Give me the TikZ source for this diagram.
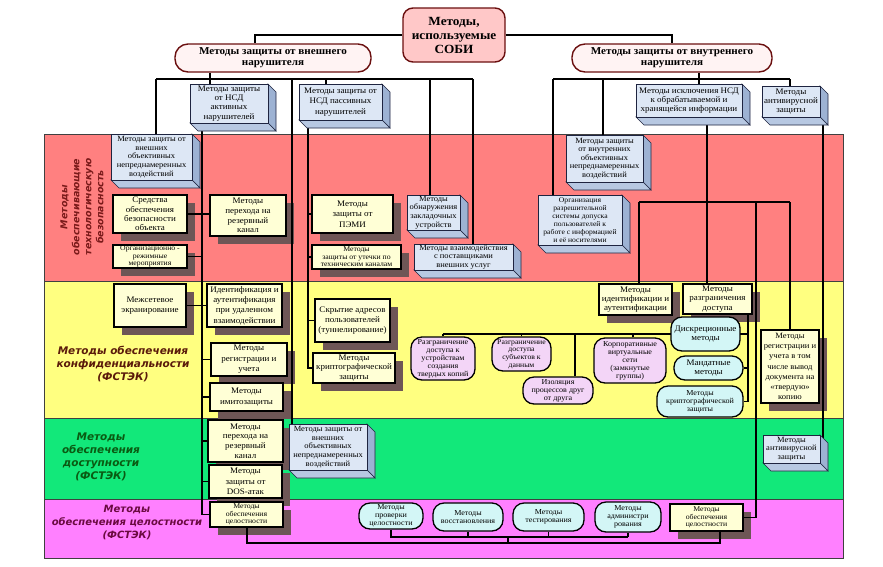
\documentclass[tikz,border=0pt]{standalone}
\usepackage{fontspec}
\setmainfont{Liberation Serif}[FakeStretch=1.06]
\newfontfamily\lblfont{DejaVu Sans}
\pgfdeclarelayer{bands}
\pgfdeclarelayer{shadowl}
\pgfdeclarelayer{lines}
\pgfsetlayers{bands,shadowl,lines,main}
\definecolor{bandred}{HTML}{FF8080}
\definecolor{bandyel}{HTML}{FFFF80}
\definecolor{bandgrn}{HTML}{12E87A}
\definecolor{bandmag}{HTML}{FF80FF}
\definecolor{tdfront}{HTML}{DDE7F5}
\definecolor{tdright}{HTML}{9DB2D3}
\definecolor{tdbottom}{HTML}{B7C8E2}
\definecolor{tdedge}{HTML}{1E2440}
\definecolor{cream}{HTML}{FFFFD6}
\definecolor{shadowc}{HTML}{6E5656}
\definecolor{lav}{HTML}{F3D5F7}
\definecolor{cyanf}{HTML}{D3F6F6}
\definecolor{topfill}{HTML}{FFC8C8}
\definecolor{pillfill}{HTML}{FFF3F3}
\definecolor{darkred}{HTML}{6A0F0F}
\definecolor{lblred}{HTML}{7A1A1A}
\definecolor{lblyel}{HTML}{5A1A0A}
\definecolor{lblgrn}{HTML}{0A5A12}
\definecolor{lblmag}{HTML}{6A0A40}
\newcommand\bxfont{\fontsize{8.5}{9.2}\selectfont}
\newcommand\bxfontL{\fontsize{8.5}{10.4}\selectfont}
\newcommand\bxfontM{\fontsize{8.5}{9.8}\selectfont}
\newcommand\mdfont{\fontsize{8}{8.6}\selectfont}
\newcommand\smfont{\fontsize{7.6}{8}\selectfont}
\newcommand\tnfont{\fontsize{7.3}{7.6}\selectfont}
\tikzset{
 conn/.style={line width=1.4pt, draw=black},
 tdbox/.style={draw=tdedge, line width=0.6pt, fill=tdfront, align=center, inner sep=0.5pt, font=\bxfont},
 cbox/.style={draw=black, line width=1.3pt, fill=cream, align=center, inner sep=0.5pt, font=\bxfont},
 lpill/.style={draw=black, line width=1.3pt, fill=lav, rounded corners=11pt, align=center, inner sep=0.5pt, font=\smfont},
 cpill/.style={draw=black, line width=1.3pt, fill=cyanf, rounded corners=11pt, align=center, inner sep=0.5pt, font=\bxfont},
 subpill/.style={draw=darkred, line width=1.4pt, fill=pillfill, rounded corners=13pt, minimum height=28, align=center, inner sep=0pt, font=\bfseries\fontsize{10.5}{11}\selectfont},
 bandlbl/.style={align=center, font=\lblfont\bfseries\itshape\fontsize{10.5}{13}\selectfont},
}
\newcommand\mkthree[7][]{%
 \filldraw[fill=tdright, draw=tdedge, line width=0.6pt] (#5,#4) -- ({#5+8},{#4+8}) -- ({#5+8},{#6+8}) -- (#5,#6) -- cycle;
 \filldraw[fill=tdbottom, draw=tdedge, line width=0.6pt] (#3,#6) -- (#5,#6) -- ({#5+8},{#6+8}) -- ({#3+8},{#6+8}) -- cycle;
 \node[tdbox,#1, minimum width={#5-#3}, minimum height={#6-#4}] (#2) at ({(#3+#5)/2},{(#4+#6)/2}) {#7};}
\newcommand\mkcream[7][]{%
 \begin{pgfonlayer}{shadowl}\fill[shadowc] ({#3+8},{#4+8}) rectangle ({#5+8},{#6+8});\end{pgfonlayer}
 \node[cbox,#1, minimum width={#5-#3}, minimum height={#6-#4}] (#2) at ({(#3+#5)/2},{(#4+#6)/2}) {#7};}
\newcommand\mkpill[7]{%
 \node[#1, minimum width={#5-#3}, minimum height={#6-#4}] (#2) at ({(#3+#5)/2},{(#4+#6)/2}) {#7};}
\begin{document}
\begin{tikzpicture}[x=1pt,y=-1pt]
\useasboundingbox (0,0) rectangle (883,566);
\begin{pgfonlayer}{bands}
\filldraw[fill=bandred, draw=black!75, line width=0.8pt] (44,134) rectangle (843,281);
\filldraw[fill=bandyel, draw=black!75, line width=0.8pt] (44,281) rectangle (843,418);
\filldraw[fill=bandgrn, draw=black!75, line width=0.8pt] (44,418) rectangle (843,499);
\filldraw[fill=bandmag, draw=black!75, line width=0.8pt] (44,499) rectangle (843,558);
\end{pgfonlayer}
\foreach \v in {156,202,210,247,292,308,326,430,473,508,553,575,603,633,639,699,707,720,748,756,790,823} {\coordinate (c\v) at (\v,0);}
\foreach \v in {79,202,537,543} {\coordinate (r\v) at (0,\v);}
% band labels
\node[bandlbl, text=lblred, rotate=90, font=\lblfont\bfseries\itshape\fontsize{9.5}{12}\selectfont] (lR) at (82,207) {Методы\\обеспечивающие\\технологическую\\безопасность};
\node[bandlbl, text=lblyel] (lY) at (123,364) {Методы обеспечения\\конфиденциальности\\(ФСТЭК)};
\node[bandlbl, text=lblgrn] (lG) at (101,457) {Методы\\обеспечения\\доступности\\(ФСТЭК)};
\node[bandlbl, text=lblmag, font=\lblfont\bfseries\itshape\fontsize{10}{13}\selectfont] (lM) at (127,523) {Методы\\обеспечения целостности\\(ФСТЭК)};
% top
\node[draw=darkred, line width=1.4pt, fill=topfill, rounded corners=10pt, minimum width=102, minimum height=54, inner sep=0pt, align=center, font=\bfseries\fontsize{12.5}{14}\selectfont] (top) at (454,35) {Методы,\\используемые\\СОБИ};
\node[subpill, minimum width=196] (pe) at (273,58) {Методы защиты от внешнего\\нарушителя};
\node[subpill, minimum width=200] (pi) at (672,58) {Методы защиты от внутреннего\\нарушителя};
% 3D boxes
\mkthree{act}{190}{84}{268}{123}{Методы защиты\\от НСД\\активных\\нарушителей}
\mkthree[font=\bxfontL]{pas}{299}{84}{382}{120}{Методы защиты от\\НСД пассивных\\нарушителей}
\mkthree{isk}{636}{84}{742}{117}{Методы исключения НСД\\к обрабатываемой и\\хранящейся информации}
\mkthree{avA}{762}{86}{820}{117}{Методы\\антивирусной\\защиты}
\mkthree[font=\mdfont]{extA}{111}{134}{192}{180}{Методы защиты от\\внешних\\объективных\\непреднамеренных\\воздействий}
\mkthree[font=\mdfont]{obn}{407}{195}{460}{230}{Методы\\обнаружения\\закладочных\\устройств}
\mkthree[font=\mdfont]{vz}{414}{244}{513}{270}{Методы взаимодействия\\с поставщиками\\внешних услуг}
\mkthree[font=\mdfont]{int}{566}{135}{643}{182}{Методы защиты\\от внутренних\\объективных\\непреднамеренных\\воздействий}
\mkthree[font=\fontsize{7.2}{8}\selectfont]{org}{538}{195}{622}{245}{Организация\\разрешительной\\системы допуска\\пользователей к\\работе с информацией\\и её носителями}
\mkthree[font=\mdfont]{extB}{289}{424}{367}{470}{Методы защиты от\\внешних\\объективных\\непреднамеренных\\воздействий}
\mkthree[font=\mdfont]{avB}{763}{435}{820}{463}{Методы\\антивирусной\\защиты}
% cream boxes
\mkcream{sr}{113}{195}{187}{233}{Средства\\обеспечения\\безопасности\\объекта}
\mkcream[font=\tnfont]{om}{113}{245}{187}{268}{Организационно -\\режимные\\мероприятия}
\mkcream[font=\bxfontM]{rezA}{210}{195}{286}{236}{Методы\\перехода на\\резервный\\канал}
\mkcream[font=\bxfontL]{pemi}{312}{195}{393}{233}{Методы\\защиты от\\ПЭМИ}
\mkcream[font=\tnfont]{ut}{312}{245}{401}{269}{Методы\\защиты от утечки по\\техническим каналам}
\mkcream[font=\bxfontL]{mezh}{114}{284}{186}{327}{Межсетевое\\экранирование}
\mkcream[font=\bxfontL]{idr}{207}{284}{282}{327}{Идентификация и\\аутентификация\\при удаленном\\взаимодействии}
\mkcream[font=\bxfontL]{regA}{211}{343}{287}{376}{Методы\\регистрации и\\учета}
\mkcream[font=\bxfontL]{imit}{210}{383}{283}{411}{Методы\\имитозащиты}
\mkcream[font=\bxfontL]{skr}{315}{299}{390}{342}{Скрытие адресов\\пользователей\\(туннелирование)}
\mkcream{krA}{313}{353}{395}{383}{Методы\\криптографической\\защиты}
\mkcream{idB}{599}{284}{672}{315}{Методы\\идентификации и\\аутентификации}
\mkcream{rd}{683}{284}{752}{314}{Методы\\разграничения\\доступа}
\mkcream[font=\fontsize{8.1}{10.2}\selectfont]{regB}{761}{330}{819}{403}{Методы\\регистрации и\\учета в том\\числе вывод\\документа на\\«твердую»\\копию}
\mkcream[font=\bxfontM]{rezB}{208}{420}{283}{462}{Методы\\перехода на\\резервный\\канал}
\mkcream[font=\bxfontL]{dos}{209}{465}{282}{498}{Методы\\защиты от\\DOS-атак}
\mkcream[font=\tnfont]{celA}{210}{502}{283}{527}{Методы\\обеспечения\\целостности}
\mkcream[font=\tnfont]{celB}{670}{504}{743}{531}{Методы\\обеспечения\\целостности}
% pills
\mkpill{lpill}{pA}{411}{337}{475}{380}{Разграничение\\доступа к\\устройствам\\создания\\твердых копий}
\mkpill{lpill,font=\tnfont}{pB}{492}{337}{551}{371}{Разграничение\\доступа\\субъектов к\\данным}
\mkpill{lpill}{izol}{523}{377}{593}{404}{Изоляция\\процессов друг\\от друга}
\mkpill{lpill}{korp}{594}{338}{666}{383}{Корпоративные\\виртуальные\\сети\\(замкнутые\\группы)}
\mkpill{cpill}{dis}{671}{317}{740}{351}{Дискреционные\\методы}
\mkpill{cpill}{man}{674}{356}{743}{380}{Мандатные\\методы}
\mkpill{cpill,font=\smfont}{krB}{657}{386}{743}{417}{Методы\\криптографической\\защиты}
\mkpill{cpill,font=\smfont}{m1}{359}{503}{423}{529}{Методы\\проверки\\целостности}
\mkpill{cpill,font=\smfont}{m2}{433}{503}{503}{531}{Методы\\восстановления}
\mkpill{cpill,font=\smfont}{m3}{513}{503}{584}{531}{Методы\\тестирования}
\mkpill{cpill,font=\smfont}{m4}{595}{502}{661}{532}{Методы\\администри\\рования}
% connectors
\begin{pgfonlayer}{lines}
\draw[conn] (top.west) -| ([xshift=-18pt]pe.north);
\draw[conn] (top.east) -| (pi.north);
\draw[conn] (c156 |- r79) -- (c473 |- r79);
\draw[conn] (pe.south -| c210) -- (act.north -| c210);
\draw[conn] (c156 |- r79) -- (extA.north -| c156);
\draw[conn] (c292 |- r79) -- (extB.north -| c292);
\draw[conn] (c326 |- r79) -- (pas.north -| c326);
\draw[conn] (c430 |- r79) -- (obn.north -| c430);
\draw[conn] (c473 |- r79) -- (vz.north -| c473);
\draw[conn] (c553 |- r79) -- (c790 |- r79);
\draw[conn] (pi.south -| c699) -- (isk.north -| c699);
\draw[conn] (c553 |- r79) -- (org.north -| c553);
\draw[conn] (c603 |- r79) -- (int.north -| c603);
\draw[conn] (c790 |- r79) -- (avA.north -| c790);
% trunk x=202
\draw[conn] (act.south -| c202) |- (celA.west);
\draw[conn] (sr.east) -- (sr.east -| rezA.west);
\draw[conn] (om.east) -- (om.east -| c202);
\draw[conn] (mezh.east) -- (mezh.east -| idr.west);
\draw[conn] (regA.west) -- (regA.west -| c202);
\draw[conn] (imit.west) -- (imit.west -| c202);
\draw[conn] (rezB.west) -- (rezB.west -| c202);
\draw[conn] (dos.west) -- (dos.west -| c202);
% trunk x=308
\draw[conn] (pas.south -| c308) |- (krA.west);
\draw[conn] (pemi.west) -- (pemi.west -| c308);
\draw[conn] (ut.west) -- (ut.west -| c308);
\draw[conn] (skr.west) -- (skr.west -| c308);
% internal tree
\draw[conn] (isk.south -| c707) -- (rd.north -| c707);
\draw[conn] (c639 |- r202) -- (c790 |- r202);
\draw[conn] (c639 |- r202) -- (idB.north -| c639);
\draw[conn] (c790 |- r202) -- (regB.north -| c790);
\draw[conn] (c756 |- r202) |- (celB.east);
\draw[conn] (avA.south -| c823) -- ([yshift=-4pt]avB.north -| c823);
% access control
\draw[conn] (rd.south -| c748) |- (krB.east);
\draw[conn] (man.east) -- (man.east -| c748);
\draw[conn] (pA.north |- dis.east) -- (dis.east -| c748);
\draw[conn] (pA.north) -- (pA.north |- dis.east);
\draw[conn] (pB.north) -- (pB.north |- dis.east);
\draw[conn] (izol.north -| c575) -- (dis.east -| c575);
\draw[conn] (korp.north -| c633) -- (dis.east -| c633);
% integrity
\draw[conn] (celA.south -| c247) -- (c247 |- r543) -| (celB.south -| c720);
\draw[conn] (m1.south) |- (m4.south |- r537);
\draw[conn] (m2.south) -- (m2.south |- r537);
\draw[conn] (m3.south) -- (m3.south |- r537);
\draw[conn] (m4.south) -- (m4.south |- r537);
\draw[conn] (c508 |- r537) -- (c508 |- r543);
\end{pgfonlayer}
\end{tikzpicture}
\end{document}
